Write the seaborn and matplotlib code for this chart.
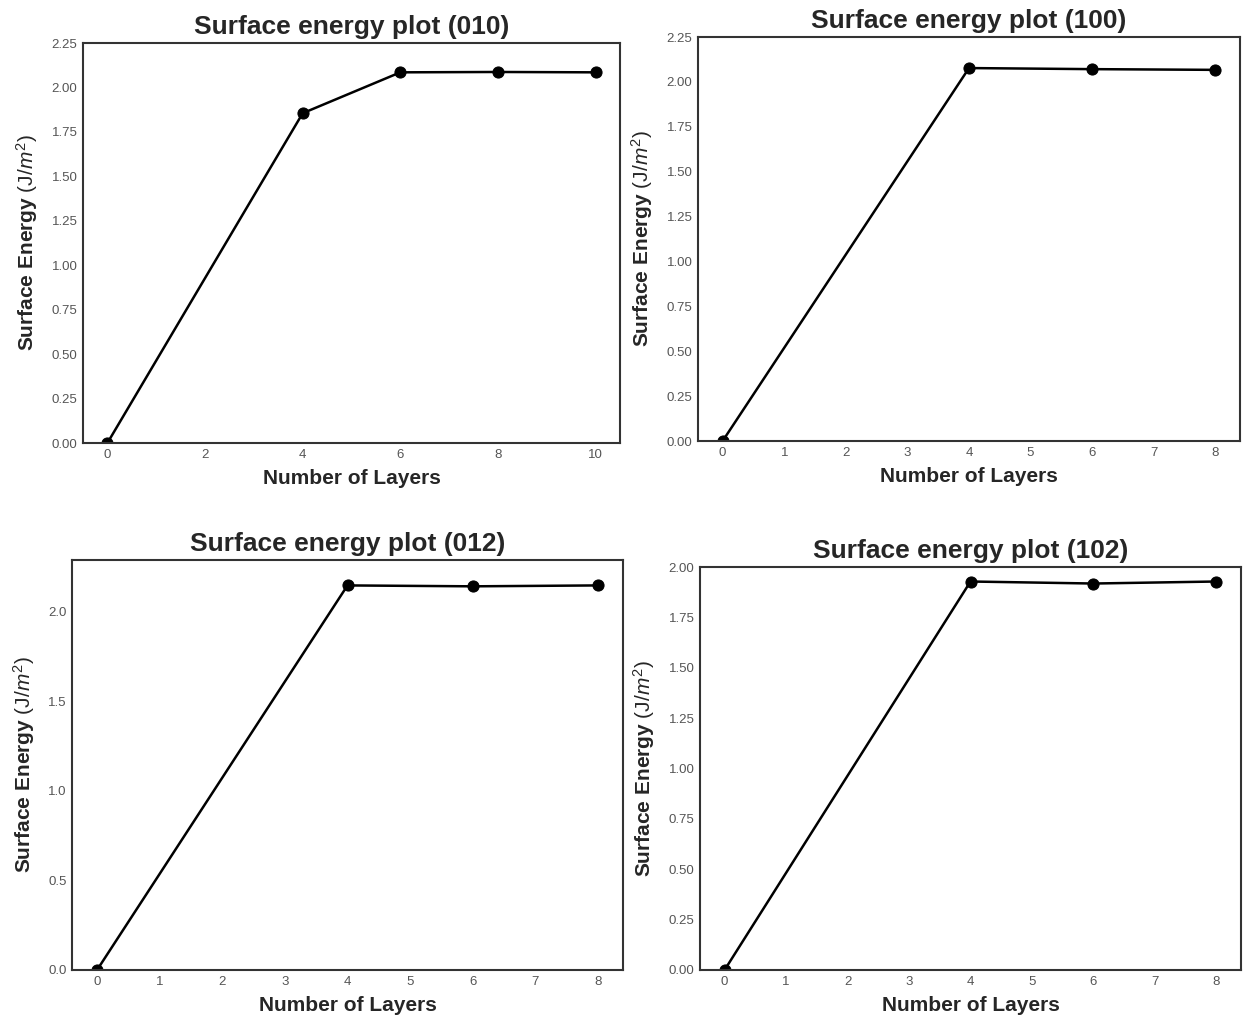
import matplotlib
matplotlib.use("Agg")
import matplotlib.pyplot as plt
import seaborn as sns
import pandas as pd

# Surface energy vs. slab thickness for four facets
layers_010 = [0, 4, 6, 8, 10]
energy_010 = [0.0, 1.855, 2.085, 2.087, 2.085]

layers_100 = [0, 4, 6, 8]
energy_100 = [0.0, 2.077, 2.071, 2.067]

layers_012 = [0, 4, 6, 8]
energy_012 = [0.0, 2.148, 2.143, 2.148]

layers_102 = [0, 4, 6, 8]
energy_102 = [0.0, 1.928, 1.918, 1.928]

titles = ["Surface energy plot (010)", "Surface energy plot (100)",
          "Surface energy plot (012)", "Surface energy plot (102)"]

sns.set_theme(style="white")
plt.rcParams["font.family"] = ["Liberation Sans", "DejaVu Sans"]
plt.rcParams["mathtext.fontset"] = "custom"
plt.rcParams["mathtext.rm"] = "Liberation Sans"
plt.rcParams["mathtext.it"] = "Liberation Sans:italic"
plt.rcParams["mathtext.bf"] = "Liberation Sans:bold"

W, H = 1243, 1024
fig = plt.figure(figsize=(W / 100, H / 100), dpi=100)

# panel rectangles in pixels: left, top, right, bottom
rects = [(83, 43, 620, 443), (698, 37, 1240, 441),
         (72, 560, 623, 970), (700, 567, 1241, 970)]
series = [(layers_010, energy_010), (layers_100, energy_100),
          (layers_012, energy_012), (layers_102, energy_102)]
ylims = [(0, 2.25), (0, 2.25), (0, 2.29), (0, 2.0)]
yticks = [[0, 0.25, 0.5, 0.75, 1.0, 1.25, 1.5, 1.75, 2.0, 2.25],
          [0, 0.25, 0.5, 0.75, 1.0, 1.25, 1.5, 1.75, 2.0, 2.25],
          [0, 0.5, 1.0, 1.5, 2.0],
          [0, 0.25, 0.5, 0.75, 1.0, 1.25, 1.5, 1.75, 2.0]]
yfmt = ["{:.2f}", "{:.2f}", "{:.1f}", "{:.2f}"]
xticks = [[0, 2, 4, 6, 8, 10], list(range(9)), list(range(9)), list(range(9))]

for (l, t, r, b), (xs, ys), title, yl, yt, fm, xt in zip(
        rects, series, titles, ylims, yticks, yfmt, xticks):
    ax = fig.add_axes([l / W, 1 - b / H, (r - l) / W, (b - t) / H])
    df = pd.DataFrame({"layers": xs, "energy": ys})
    sns.lineplot(data=df, x="layers", y="energy", ax=ax, color="black",
                 marker="o", markersize=8, linewidth=1.8,
                 markeredgecolor="black")
    span = max(xs) - min(xs)
    ax.set_xlim(min(xs) - 0.05 * span, max(xs) + 0.05 * span)
    ax.set_ylim(*yl)
    ax.set_yticks(yt)
    ax.set_yticklabels([fm.format(v) for v in yt])
    ax.set_xticks(xt)
    ax.tick_params(labelsize=9.5, colors="#555555", length=0, pad=4)
    ax.set_title(title, fontsize=19, fontweight="bold", color="#262626", pad=6.5)
    ax.set_xlabel("Number of Layers", fontsize=15, fontweight="bold",
                  color="#262626", labelpad=6)
    ax.set_ylabel(r"Surface Energy $(\mathrm{J}/m^2)$", fontsize=15,
                  fontweight="bold", color="#262626", labelpad=8)
    for sp in ax.spines.values():
        sp.set_color("#333333")
        sp.set_linewidth(1.5)

fig.savefig("out.png", dpi=100, facecolor="white")
